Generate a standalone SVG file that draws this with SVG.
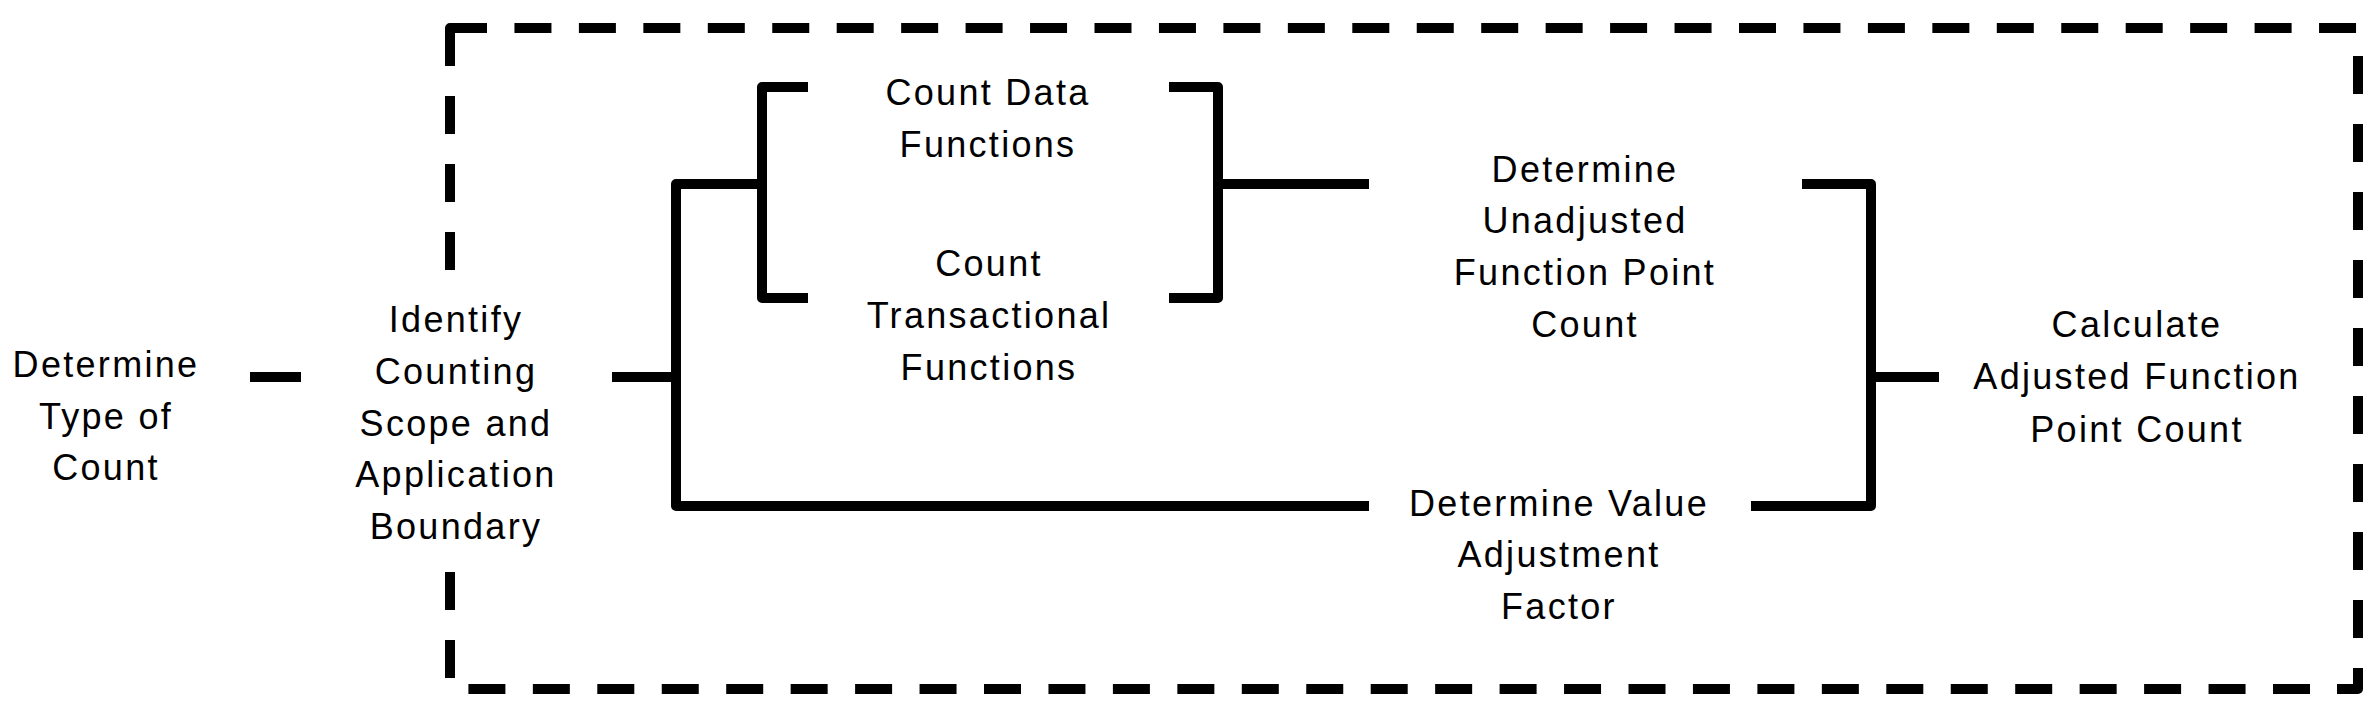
<svg xmlns="http://www.w3.org/2000/svg" width="2376" height="714" viewBox="0 0 2376 714">
<style>
.boundary{fill:none;stroke:#000;stroke-width:10;stroke-linejoin:round;stroke-linecap:butt;stroke-dasharray:0 28 38 30 38 30 38 30 38 30 38 30 38 30 38 30 38 30 38 30 42 27 37 27.45 37 27.45 37 27.45 37 27.45 37 27.45 37 27.45 37 27.45 37 27.45 37 27.45 37 27.45 37 27.45 37 27.45 37 27.45 37 27.45 37 27.45 37 27.45 37 27.45 37 27.45 37 27.45 37 27.45 37 27.45 37 27.45 37 27.45 37 27.45 37 27.45 37 27.45 37 27.45 37 27.45 37 29.4 38 30 38 30 38 30 38 30 38 30 38 30 38 30 38 30 38 30 75 27.45 37 27.45 37 27.45 37 27.45 37 27.45 37 27.45 37 27.45 37 27.45 37 27.45 37 27.45 37 27.45 37 27.45 37 27.45 37 27.45 37 27.45 37 27.45 37 27.45 37 27.45 37 27.45 37 27.45 37 27.45 37 27.45 37 27.45 37 27.45 37 27.45 37 27.45 37 27.45 37 27.45 37 27.45 37 2}
.conn{fill:none;stroke:#000;stroke-width:10;stroke-linejoin:round;stroke-linecap:butt}
.nodebg{fill:#fff;stroke:none}
.lbl{font-family:"Liberation Sans",Arial,sans-serif;font-size:36px;letter-spacing:2.3px;text-anchor:middle;fill:#000}
</style>
<rect width="2376" height="714" fill="#fff"/>
<g id="boundary">
<path class="boundary" d="M2358,28 V689 H450 V28 H2358"/>
</g>
<g id="connectors">
<path class="conn" d="M250,377 H301"/>
<path class="conn" d="M612,377 H676"/>
<path class="conn" d="M762,184 H676 V506 H1369"/>
<path class="conn" d="M808,87 H762 V298 H808"/>
<path class="conn" d="M1169,87 H1218 V298 H1169"/>
<path class="conn" d="M1218,184 H1369"/>
<path class="conn" d="M1802,184 H1871 V506 H1751"/>
<path class="conn" d="M1871,377 H1939"/>
</g>
<g id="node-determine-type">
<text class="lbl" x="106" y="377">Determine</text>
<text class="lbl" x="106" y="429">Type of</text>
<text class="lbl" x="106" y="480">Count</text>
</g>
<g id="node-identify-scope">
<rect class="nodebg" x="304" y="282" width="305" height="276"/>
<text class="lbl" x="456" y="332">Identify</text>
<text class="lbl" x="456" y="384">Counting</text>
<text class="lbl" x="456" y="436">Scope and</text>
<text class="lbl" x="456" y="487">Application</text>
<text class="lbl" x="456" y="539">Boundary</text>
</g>
<g id="node-count-data">
<text class="lbl" x="988" y="105">Count Data</text>
<text class="lbl" x="988" y="157">Functions</text>
</g>
<g id="node-count-transactional">
<text class="lbl" x="989" y="276">Count</text>
<text class="lbl" x="989" y="328">Transactional</text>
<text class="lbl" x="989" y="380">Functions</text>
</g>
<g id="node-unadjusted">
<text class="lbl" x="1585" y="182">Determine</text>
<text class="lbl" x="1585" y="233">Unadjusted</text>
<text class="lbl" x="1585" y="285">Function Point</text>
<text class="lbl" x="1585" y="337">Count</text>
</g>
<g id="node-vaf">
<text class="lbl" x="1559" y="516">Determine Value</text>
<text class="lbl" x="1559" y="567">Adjustment</text>
<text class="lbl" x="1559" y="619">Factor</text>
</g>
<g id="node-adjusted">
<text class="lbl" x="2137" y="337">Calculate</text>
<text class="lbl" x="2137" y="389">Adjusted Function</text>
<text class="lbl" x="2137" y="442">Point Count</text>
</g>
</svg>
